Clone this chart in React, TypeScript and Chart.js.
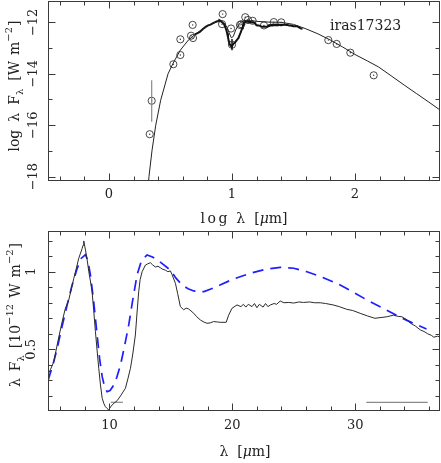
import React, { useEffect, useRef } from 'react';
import { Chart, registerables } from 'chart.js';

Chart.register(...registerables);

const FONT = '"DejaVu Serif", "Liberation Serif", serif';

// ---------- top panel: SED (log lambda vs log lambda F_lambda) ----------
const sedModelX = [0.30, 0.325, 0.35, 0.38, 0.42, 0.48, 0.52, 0.58, 0.645, 0.71, 0.79, 0.85, 0.88, 0.91, 0.94, 0.96, 0.98, 0.995, 1.01, 1.03, 1.06, 1.09, 1.12, 1.15, 1.2, 1.3, 1.4, 1.5, 1.6, 1.7, 1.8, 1.9, 2.0, 2.1, 2.19, 2.3, 2.4, 2.5, 2.6, 2.7];
const sedModelY = [-19.5, -18.0, -16.97, -16.0, -15.03, -14.0, -13.6, -13.08, -12.69, -12.43, -12.17, -12.02, -11.98, -11.97, -12.05, -12.2, -12.45, -12.6, -12.55, -12.3, -12.05, -11.95, -11.92, -11.93, -11.96, -11.99, -12.0, -12.08, -12.25, -12.45, -12.69, -12.96, -13.25, -13.5, -13.73, -14.1, -14.44, -14.77, -15.1, -15.44];

const photX = [0.331, 0.347, 0.523, 0.58, 0.58, 0.667, 0.683, 0.68, 0.924, 0.919, 0.992, 1.0, 1.065, 1.076, 1.108, 1.13, 1.168, 1.26, 1.34, 1.40, 1.783, 1.851, 1.962, 2.152];
const photY = [-16.35, -15.05, -13.63, -13.27, -12.66, -12.52, -12.61, -12.1, -11.68, -12.07, -12.24, -12.87, -12.1, -12.07, -11.8, -11.91, -11.94, -12.12, -11.99, -12.0, -12.69, -12.84, -13.18, -14.06];

const errBarAX = [0.347, 0.347];
const errBarAY = [-14.25, -15.87];
const errBarBX = [1.0, 1.0];
const errBarBY = [-12.65, -13.08];

const topXMajor = [0, 1, 2];
const topXLabels = ['0', '1', '2'];
const topXMinor = [-0.4, -0.2, 0.2, 0.4, 0.6, 0.8, 1.2, 1.4, 1.6, 1.8, 2.2, 2.4, 2.6];
const topYMajor = [-18, -16, -14, -12];
const topYLabels = ['\u221218', '\u221216', '\u221214', '\u221212'];
const topYMinor = [-17, -15, -13];

// ---------- bottom panel: mid-IR spectrum ----------
const specLam = [5.0, 5.2, 5.47, 5.8, 6.15, 6.4, 6.69, 6.9, 7.1, 7.3, 7.5, 7.65, 7.78, 7.85, 7.91, 8.0, 8.05, 8.2, 8.32, 8.45, 8.59, 8.72, 8.86, 9.0, 9.13, 9.27, 9.41, 9.55, 9.67, 9.8, 9.94, 10.1, 10.22, 10.4, 10.63, 10.9, 11.1, 11.3, 11.5, 11.71, 11.9, 12.11, 12.25, 12.38, 12.5, 12.66, 12.93, 13.1, 13.33, 13.5, 13.74, 13.95, 14.15, 14.35, 14.55, 14.75, 14.96, 15.1, 15.37, 15.55, 15.77, 16.04, 16.25, 16.45, 16.86, 17.1, 17.4, 17.7, 17.94, 18.2, 18.48, 18.8, 19.02, 19.5, 19.7, 19.97, 20.38, 20.7, 20.9, 21.1, 21.3, 21.6, 21.8, 22.0, 22.2, 22.5, 22.7, 22.9, 23.1, 23.4, 23.6, 23.9, 24.2, 24.6, 25.0, 25.4, 25.8, 26.3, 26.7, 27.15, 27.6, 28.2, 28.7, 29.3, 29.8, 30.4, 31.0, 31.6, 32.1, 32.6, 33.1, 33.5, 33.8, 34.2, 34.5, 34.9, 35.3, 35.6, 35.9, 36.2, 36.4, 36.7, 37.0];
const specFlux = [0.34, 0.37, 0.42, 0.55, 0.678, 0.76, 0.818, 0.89, 0.957, 1.02, 1.086, 1.12, 1.15, 1.17, 1.198, 1.16, 1.14, 1.07, 1.0, 0.94, 0.87, 0.75, 0.614, 0.49, 0.378, 0.27, 0.185, 0.15, 0.131, 0.12, 0.11, 0.13, 0.142, 0.155, 0.17, 0.2, 0.225, 0.249, 0.31, 0.378, 0.47, 0.592, 0.74, 0.871, 0.95, 1.0, 1.043, 1.05, 1.058, 1.045, 1.03, 1.035, 1.025, 1.015, 1.01, 1.0, 1.005, 0.98, 0.925, 0.86, 0.775, 0.755, 0.765, 0.76, 0.732, 0.71, 0.689, 0.675, 0.668, 0.67, 0.679, 0.676, 0.674, 0.674, 0.72, 0.764, 0.786, 0.775, 0.79, 0.772, 0.79, 0.775, 0.795, 0.768, 0.79, 0.772, 0.795, 0.775, 0.786, 0.795, 0.79, 0.811, 0.8, 0.802, 0.798, 0.805, 0.802, 0.805, 0.8, 0.8, 0.795, 0.786, 0.775, 0.758, 0.75, 0.732, 0.715, 0.7, 0.705, 0.71, 0.72, 0.712, 0.71, 0.69, 0.668, 0.65, 0.625, 0.615, 0.6, 0.59, 0.578, 0.585, 0.575];

const modelLam = [5.0, 5.4, 5.75, 6.15, 6.56, 6.95, 7.37, 7.7, 8.05, 8.25, 8.45, 8.7, 9.0, 9.2, 9.41, 9.6, 9.81, 10.05, 10.35, 10.6, 10.9, 11.2, 11.57, 11.9, 12.25, 12.6, 13.06, 13.5, 13.9, 14.4, 14.96, 15.4, 15.9, 16.4, 16.86, 17.3, 17.7, 18.3, 19.0, 20.0, 21.46, 22.7, 23.9, 25.0, 26.07, 27.3, 28.5, 29.7, 30.95, 32.2, 33.4, 34.6, 35.8];
const modelFlux = [0.3, 0.4, 0.507, 0.65, 0.786, 0.91, 1.02, 1.085, 1.11, 1.07, 0.98, 0.82, 0.59, 0.44, 0.324, 0.26, 0.227, 0.235, 0.27, 0.32, 0.4, 0.51, 0.657, 0.82, 0.98, 1.07, 1.108, 1.095, 1.076, 1.045, 1.01, 0.96, 0.915, 0.89, 0.876, 0.872, 0.872, 0.89, 0.914, 0.95, 0.99, 1.015, 1.028, 1.022, 1.0, 0.965, 0.925, 0.875, 0.818, 0.768, 0.717, 0.672, 0.631];

const barALam = [30.9, 35.9];
const barAFlux = [0.159, 0.159];
const barBLam = [10.1, 11.1];
const barBFlux = [0.159, 0.159];

const botXMajor = [10, 20, 30];
const botXLabels = ['10', '20', '30'];
const botXMinor = [6, 8, 12, 14, 16, 18, 22, 24, 26, 28, 32, 34, 36];
const botYMajor = [0.5, 1];
const botYLabels = ['0.5', '1'];
const botYMinor = [0.2, 0.3, 0.4, 0.6, 0.7, 0.8, 0.9, 1.1, 1.2];

const zip = (xs: number[], ys: number[]) => xs.map((x, i) => ({ x, y: ys[i] }));

type Part = { t: string; size?: number; dy?: number; gap?: number; italic?: boolean; ls?: number };

function drawRich(ctx: CanvasRenderingContext2D, parts: Part[], cx: number, cy: number, rotate: boolean) {
  const font = (p: Part) => `${p.italic ? 'italic ' : ''}${p.size || 14}px ${FONT}`;
  const width = (p: Part) => {
    ctx.font = font(p);
    let w = 0;
    if (p.ls) {
      for (const ch of p.t) w += ctx.measureText(ch).width + p.ls;
      w -= p.ls;
    } else w = ctx.measureText(p.t).width;
    return w + (p.gap || 0);
  };
  const total = parts.reduce((s, p) => s + width(p), 0);
  ctx.save();
  ctx.translate(cx, cy);
  if (rotate) ctx.rotate(-Math.PI / 2);
  ctx.textBaseline = 'alphabetic';
  ctx.textAlign = 'left';
  ctx.fillStyle = '#222';
  let u = -total / 2;
  for (const p of parts) {
    u += p.gap || 0;
    ctx.font = font(p);
    if (p.ls) {
      for (const ch of p.t) {
        ctx.fillText(ch, u, p.dy || 0);
        u += ctx.measureText(ch).width + p.ls;
      }
      u -= p.ls;
    } else {
      ctx.fillText(p.t, u, p.dy || 0);
      u += ctx.measureText(p.t).width;
    }
  }
  ctx.restore();
}

type FrameCfg = {
  xMajor: number[]; xLabels: string[]; xMinor: number[];
  yMajor: number[]; yLabels: string[]; yMinor: number[];
  xLabelY: number; yLabelX: number;
  extra: (ctx: CanvasRenderingContext2D) => void;
};

function framePlugin(cfg: FrameCfg) {
  return {
    id: 'frame',
    afterDraw(chart: any) {
      const ctx: CanvasRenderingContext2D = chart.ctx;
      const { left, right, top, bottom } = chart.chartArea;
      const xs = chart.scales.x;
      const ys = chart.scales.y;
      ctx.save();
      ctx.strokeStyle = '#3a3a3a';
      ctx.lineWidth = 1;
      const L = left + 0.5, R = right - 0.5, T = top + 0.5, B = bottom - 0.5;
      ctx.strokeRect(L, T, R - L, B - T);
      ctx.beginPath();
      const xt = (v: number, len: number) => {
        const p = Math.round(xs.getPixelForValue(v)) + 0.5;
        if (p < left || p > right) return;
        ctx.moveTo(p, B); ctx.lineTo(p, B - len);
        ctx.moveTo(p, T); ctx.lineTo(p, T + len);
      };
      const yt = (v: number, len: number) => {
        const p = Math.round(ys.getPixelForValue(v)) + 0.5;
        if (p < top || p > bottom) return;
        ctx.moveTo(L, p); ctx.lineTo(L + len, p);
        ctx.moveTo(R, p); ctx.lineTo(R - len, p);
      };
      cfg.xMinor.forEach((v) => xt(v, 4));
      cfg.xMajor.forEach((v) => xt(v, 7));
      cfg.yMinor.forEach((v) => yt(v, 4));
      cfg.yMajor.forEach((v) => yt(v, 7));
      ctx.stroke();

      ctx.fillStyle = '#222';
      ctx.font = `13px ${FONT}`;
      ctx.textAlign = 'center';
      ctx.textBaseline = 'middle';
      cfg.xMajor.forEach((v, i) => {
        ctx.fillText(cfg.xLabels[i], xs.getPixelForValue(v), cfg.xLabelY);
      });
      cfg.yMajor.forEach((v, i) => {
        ctx.save();
        ctx.translate(cfg.yLabelX, ys.getPixelForValue(v));
        ctx.rotate(-Math.PI / 2);
        ctx.fillText(cfg.yLabels[i], 0, 0);
        ctx.restore();
      });
      cfg.extra(ctx);
      ctx.restore();
    },
  };
}

const baseOptions = (xmin: number, xmax: number, ymin: number, ymax: number, padBottom: number) => ({
  responsive: false,
  animation: false as const,
  devicePixelRatio: 1,
  layout: { autoPadding: false, padding: { left: 48, right: 1, top: 1, bottom: padBottom } },
  plugins: { legend: { display: false }, tooltip: { enabled: false } },
  events: [] as any[],
  scales: {
    x: { type: 'linear' as const, min: xmin, max: xmax, display: false },
    y: { type: 'linear' as const, min: ymin, max: ymax, display: false },
  },
  elements: { line: { tension: 0 }, point: { hoverRadius: 0 } },
});

export default function App() {
  const topRef = useRef<HTMLCanvasElement>(null);
  const botRef = useRef<HTMLCanvasElement>(null);

  useEffect(() => {
    const specTop = specLam.map((l, i) => ({ x: Math.log10(l), y: -12 + Math.log10(specFlux[i]) }));
    const phot = zip(photX, photY);

    const top = new Chart(topRef.current as HTMLCanvasElement, {
      type: 'line',
      data: {
        datasets: [
          { data: zip(sedModelX, sedModelY), borderColor: '#222', borderWidth: 1, pointRadius: 0, fill: false } as any,
          { data: specTop, borderColor: '#111', borderWidth: 2, pointRadius: 0, fill: false } as any,
          { data: zip(errBarAX, errBarAY), borderColor: '#8a8a8a', borderWidth: 1.2, pointRadius: 0 } as any,
          { data: zip(errBarBX, errBarBY), borderColor: '#333', borderWidth: 1, pointRadius: 0 } as any,
          { data: phot, showLine: false, pointStyle: 'circle', pointRadius: 3.6, pointBorderWidth: 0.9, pointBorderColor: '#333', pointBackgroundColor: 'rgba(0,0,0,0)' } as any,
          { data: phot, showLine: false, pointStyle: 'circle', pointRadius: 0.7, pointBorderWidth: 0, pointBackgroundColor: '#333' } as any,
        ],
      },
      options: baseOptions(-0.496, 2.691, -18.17, -11.17, 49) as any,
      plugins: [
        framePlugin({
          xMajor: topXMajor, xLabels: topXLabels, xMinor: topXMinor,
          yMajor: topYMajor, yLabels: topYLabels, yMinor: topYMinor,
          xLabelY: 195, yLabelX: 34,
          extra: (ctx) => {
            drawRich(ctx, [
              { t: 'log', ls: 2.5 },
              { t: '\u03bb', gap: 9 },
              { t: '[', gap: 9 },
              { t: '\u03bc', italic: true },
              { t: 'm]' },
            ], 244, 223, false);
            drawRich(ctx, [
              { t: 'log' },
              { t: '\u03bb', gap: 8 },
              { t: 'F', gap: 8 },
              { t: '\u03bb', size: 10, dy: 3.5 },
              { t: '[W', gap: 8 },
              { t: 'm', gap: 6 },
              { t: '\u22122', size: 10, dy: -7 },
              { t: ']', gap: 1 },
            ], 19, 86, true);
            ctx.font = `14px ${FONT}`;
            ctx.textAlign = 'left';
            ctx.textBaseline = 'alphabetic';
            ctx.fillText('iras17323', 330, 30);
          },
        }),
      ],
    });

    const bot = new Chart(botRef.current as HTMLCanvasElement, {
      type: 'line',
      data: {
        datasets: [
          { data: zip(specLam, specFlux), borderColor: '#2a2a2a', borderWidth: 1, pointRadius: 0, fill: false } as any,
          { data: zip(modelLam, modelFlux), borderColor: '#1e1eff', borderWidth: 1.7, borderDash: [11, 7], pointRadius: 0, fill: false } as any,
          { data: zip(barALam, barAFlux), borderColor: '#8a8a8a', borderWidth: 1.2, pointRadius: 0 } as any,
          { data: zip(barBLam, barBFlux), borderColor: '#8a8a8a', borderWidth: 1.2, pointRadius: 0 } as any,
        ],
      },
      options: baseOptions(5, 36.9, 0.103, 1.262, 52) as any,
      plugins: [
        framePlugin({
          xMajor: botXMajor, xLabels: botXLabels, xMinor: botXMinor,
          yMajor: botYMajor, yLabels: botYLabels, yMinor: botYMinor,
          xLabelY: 195.5, yLabelX: 32,
          extra: (ctx) => {
            drawRich(ctx, [
              { t: '\u03bb' },
              { t: '[', gap: 9 },
              { t: '\u03bc', italic: true },
              { t: 'm]' },
            ], 245, 226, false);
            drawRich(ctx, [
              { t: '\u03bb' },
              { t: 'F', gap: 7 },
              { t: '\u03bb', size: 10, dy: 3.5 },
              { t: '[10', gap: 7 },
              { t: '\u221212', size: 10, dy: -7 },
              { t: 'W', gap: 6 },
              { t: 'm', gap: 6 },
              { t: '\u22122', size: 10, dy: -7 },
              { t: ']', gap: 1 },
            ], 20, 85, true);
          },
        }),
      ],
    });

    return () => {
      top.destroy();
      bot.destroy();
    };
  }, []);

  return (
    <div style={{ position: 'absolute', left: 0, top: 0, width: 441, height: 463, background: '#fff' }}>
      <canvas ref={topRef} width={441} height={230} style={{ display: 'block', width: 441, height: 230 }} />
      <canvas ref={botRef} width={441} height={233} style={{ display: 'block', width: 441, height: 233 }} />
    </div>
  );
}
